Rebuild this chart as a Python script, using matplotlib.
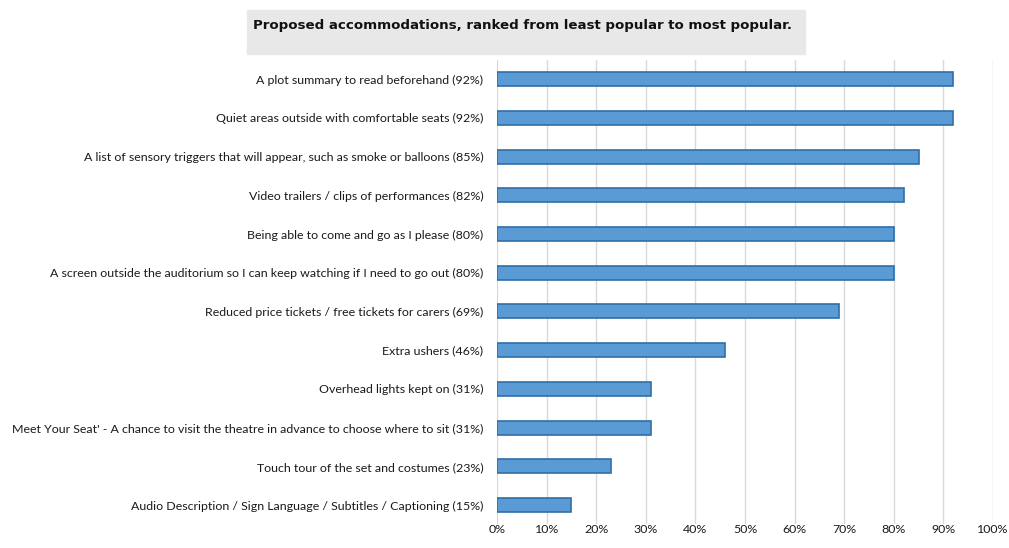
import matplotlib.pyplot as plt

labels = [
    "A plot summary to read beforehand (92%)",
    "Quiet areas outside with comfortable seats (92%)",
    "A list of sensory triggers that will appear, such as smoke or balloons (85%)",
    "Video trailers / clips of performances (82%)",
    "Being able to come and go as I please (80%)",
    "A screen outside the auditorium so I can keep watching if I need to go out (80%)",
    "Reduced price tickets / free tickets for carers (69%)",
    "Extra ushers (46%)",
    "Overhead lights kept on (31%)",
    "Meet Your Seat' - A chance to visit the theatre in advance to choose where to sit (31%)",
    "Touch tour of the set and costumes (23%)",
    "Audio Description / Sign Language / Subtitles / Captioning (15%)",
]
values = [92, 92, 85, 82, 80, 80, 69, 46, 31, 31, 23, 15]
ticks = list(range(0, 101, 10))

fig = plt.figure(figsize=(10.09, 5.48), dpi=100)
ax = fig.add_axes([0.4926, 0.043, 0.4916, 0.848])

pos = list(range(len(values)))
ax.barh(pos, values, height=0.36, color='#5b9bd5', edgecolor='#2f6fa8', linewidth=1.2, zorder=3)
ax.set_ylim(len(values) - 0.5, -0.5)
ax.set_xlim(0, 100)
ax.set_yticks(pos)
ax.set_yticklabels(labels, fontsize=8.95, family='Lato', color='#1a1a1a')
ax.set_xticks(ticks)
ax.set_xticklabels([f"{t}%" for t in ticks], fontsize=8.95, family='Lato', color='#1a1a1a')
ax.tick_params(length=0, pad=10)
ax.tick_params(axis='x', pad=0)
ax.grid(axis='x', color='#d9d9d9', linewidth=1, zorder=0)
for s in ax.spines.values():
    s.set_visible(False)

# title in grey box
fig.patches.append(plt.Rectangle((247 / 1009, 1 - 54 / 548), 558 / 1009, 44 / 548,
                                 transform=fig.transFigure, color='#e8e8e8', zorder=0))
fig.text(253 / 1009, 1 - 25 / 548, "Proposed accommodations, ranked from least popular to most popular.",
         fontsize=9.6, fontweight='bold', va='center', ha='left', color='#111111')

plt.savefig('out.png', dpi=100)
